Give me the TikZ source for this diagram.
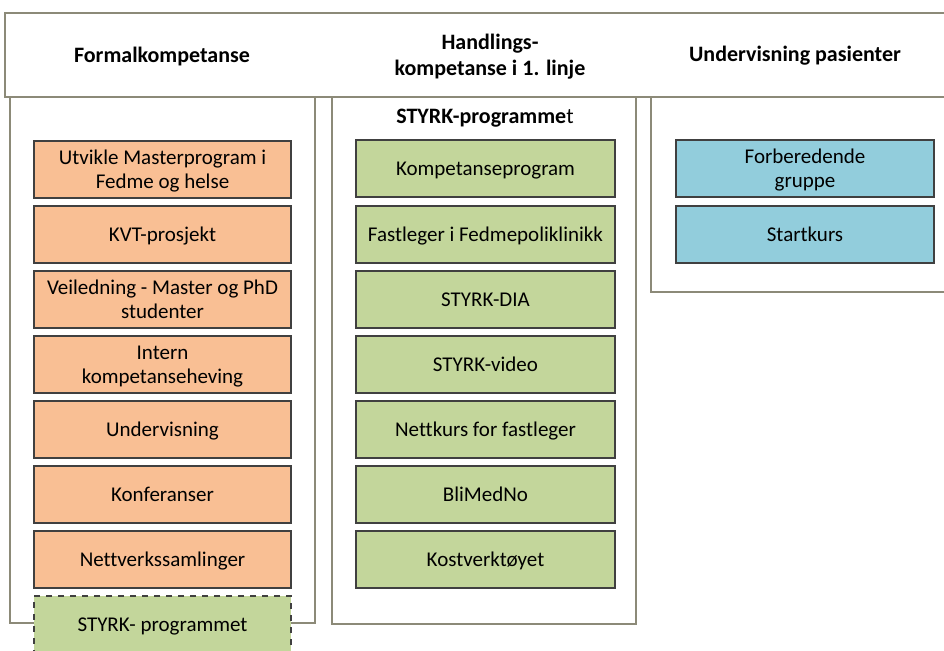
\documentclass[tikz,border=0pt]{standalone}
\usepackage{fontspec}
\setmainfont{Carlito}[Ligatures=NoCommon]
\definecolor{peach}{HTML}{F9BF94}
\definecolor{leaf}{HTML}{C3D69B}
\definecolor{sky}{HTML}{92CDDC}
\definecolor{frame}{HTML}{8C8A78}
\definecolor{edge}{HTML}{404040}
\tikzset{
  colbox/.style={draw=frame,line width=0.8pt},
  itembox/.style={draw=edge,line width=0.6pt,minimum height=28.5pt,
    align=center,inner sep=2pt,text height=9.5pt,text depth=2.5pt,
    font=\fontsize{10.5}{12}\selectfont},
  twoline/.style={text height=21.5pt,text depth=2.5pt},
  peachbox/.style={itembox,fill=peach,minimum width=128.5pt},
  leafbox/.style={itembox,fill=leaf,minimum width=129.5pt},
  skybox/.style={itembox,fill=sky,minimum width=129pt},
  headtext/.style={align=center,font=\fontsize{11}{13}\selectfont\bfseries}
}
\begin{document}
\begin{tikzpicture}[x=0.5pt,y=-0.5pt]
\clip (0,0) rectangle (944,650);
\fill[white] (0,0) rectangle (944,650);

% header row
\draw[colbox] (5,13) rectangle (960,97);
\node[headtext] (formal) at (162,57) {Formalkompetanse};
\node[headtext] (handling) at (490,57) {Handlings-\\kompetanse i 1. linje};
\node[headtext] (pasient) at (795,56) {Undervisning pasienter};

% columns
\draw[colbox] (10,97) rectangle (315,623);
\draw[colbox] (332,97) rectangle (636,624);
\draw[colbox] (651,97) rectangle (960,292);

% left column
\node[peachbox,twoline] (master) at (162.5,169.5) {Utvikle Masterprogram i\\Fedme og helse};
\node[peachbox] (kvt) at (162.5,234.5) {KVT-prosjekt};
\node[peachbox,twoline] (veiledning) at (162.5,299.5) {Veiledning - Master og PhD\\studenter};
\node[peachbox,twoline] (intern) at (162.5,364.5) {Intern\\kompetanseheving};
\node[peachbox] (undervisning) at (162.5,429.5) {Undervisning};
\node[peachbox] (konferanser) at (162.5,494.5) {Konferanser};
\node[peachbox] (nettverk) at (162.5,559.5) {Nettverkssamlinger};
\node[leafbox,dashed,minimum width=128.5pt,minimum height=28pt] (styrkleft) at (162.5,624) {STYRK- programmet};

% middle column
\node[font=\fontsize{11}{13}\selectfont] (styrk) at (485,118) {\textbf{STYRK-programme}t};
\node[leafbox] (kompetanse) at (485.5,168.5) {Kompetanseprogram};
\node[leafbox] (fastleger) at (485.5,234.5) {Fastleger i Fedmepoliklinikk};
\node[leafbox] (dia) at (485.5,299.5) {STYRK-DIA};
\node[leafbox] (video) at (485.5,364.5) {STYRK-video};
\node[leafbox] (nettkurs) at (485.5,429.5) {Nettkurs for fastleger};
\node[leafbox] (blimedno) at (485.5,494.5) {BliMedNo};
\node[leafbox] (kost) at (485.5,559.5) {Kostverktøyet};

% right column
\node[skybox,twoline] (forberedende) at (805,168.5) {Forberedende\\gruppe};
\node[skybox] (startkurs) at (805,234.5) {Startkurs};
\end{tikzpicture}
\end{document}
